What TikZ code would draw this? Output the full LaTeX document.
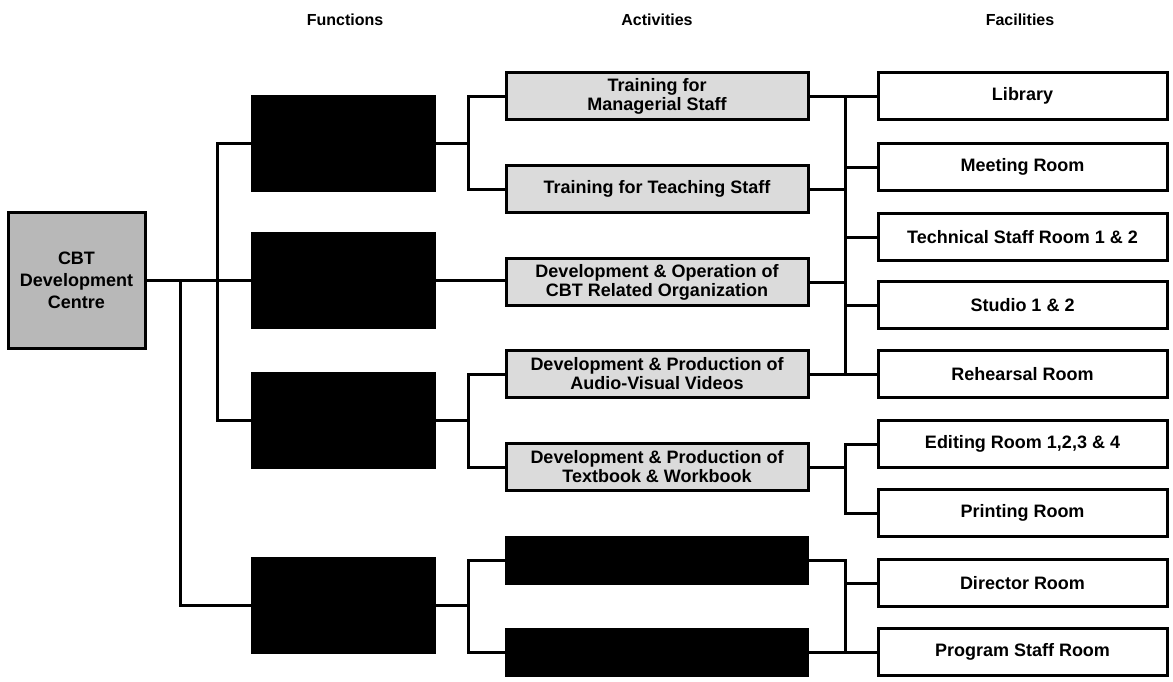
\documentclass[tikz,border=0pt]{standalone}
\usepackage{fontspec}
\setmainfont{Liberation Sans}
\begin{document}
\begin{tikzpicture}[x=1pt,y=-1pt,
  every node/.style={font=\bfseries\fontsize{18}{19}\selectfont, inner sep=0pt, align=center},
  head/.style={font=\bfseries\fontsize{16}{18}\selectfont},
  rootbox/.style={draw, line width=3pt, fill=black!28, minimum width=137, minimum height=136,
                  font=\bfseries\fontsize{18}{22}\selectfont},
  funcbox/.style={draw, line width=2pt, fill=black, minimum width=183, minimum height=95},
  actbox/.style={draw, line width=3pt, fill=black!14, minimum width=302, minimum height=47},
  actdark/.style={draw, line width=2pt, fill=black, minimum width=302, minimum height=47},
  facbox/.style={draw, line width=3pt, fill=white, minimum width=289, minimum height=47},
  link/.style={line width=3pt}]
\useasboundingbox (0,0) rectangle (1173,681);

% column headings
\node[head] (hF) at (345,20) {Functions};
\node[head] (hA) at (657,20) {Activities};
\node[head] (hC) at (1020,20) {Facilities};

% organisation
\node[rootbox] (root) at (76.5,280) {CBT\\Development\\Centre};

% functions
\node[funcbox] (F1) at (343.5,143) {};
\node[funcbox] (F2) at (343.5,280) {};
\node[funcbox] (F3) at (343.5,420) {};
\node[funcbox] (F4) at (343.5,605) {};

% activities
\node[actbox] (A1) at (657,96) {Training for\\Managerial Staff};
\node[actbox] (A2) at (657,189) {Training for Teaching Staff};
\node[actbox] (A3) at (657,282) {Development \& Operation of\\CBT Related Organization};
\node[actbox] (A4) at (657,374) {Development \& Production of\\Audio-Visual Videos};
\node[actbox] (A5) at (657,467) {Development \& Production of\\Textbook \& Workbook};
\node[actdark] (A6) at (657,560) {};
\node[actdark] (A7) at (657,652) {};

% facilities
\node[facbox] (C1) at (1022.5,96) {Library};
\node[facbox] (C2) at (1022.5,167) {Meeting Room};
\node[facbox] (C3) at (1022.5,237) {Technical Staff Room 1 \& 2};
\node[facbox] (C4) at (1022.5,305) {Studio 1 \& 2};
\node[facbox] (C5) at (1022.5,374) {Rehearsal Room};
\node[facbox] (C6) at (1022.5,444) {Editing Room 1,2,3 \& 4};
\node[facbox] (C7) at (1022.5,513) {Printing Room};
\node[facbox] (C8) at (1022.5,583) {Director Room};
\node[facbox] (C9) at (1022.5,652) {Program Staff Room};

% junction points of the connector buses
\coordinate (b1) at (180,280);
\coordinate (b2) at (217,280);
\coordinate (j1) at (468,143);
\coordinate (j3) at (468,420);
\coordinate (j4) at (468,605);
\coordinate (r1) at (845,374);
\coordinate (r2) at (845,467);
\coordinate (r3) at (845,652);

% organisation to functions
\draw[link] (root.east) -- (F2.west);
\draw[link] (b1) |- (F4.west);
\draw[link] (F1.west) -| (b2) |- (F3.west);

% functions to activities
\draw[link] (F1.east) -- (j1);
\draw[link] (A1.west) -| (j1) |- (A2.west);
\draw[link] (F2.east) -- (A3.west |- F2.east);
\draw[link] (F3.east) -- (j3);
\draw[link] (A4.west) -| (j3) |- (A5.west);
\draw[link] (F4.east) -- (j4);
\draw[link] (A6.west) -| (j4) |- (A7.west);

% activities to facilities
\draw[link] (A1.east) -| (r1) -- (C5.west);
\draw[link] (A1.east) -- (C1.west);
\draw[link] (A2.east) -- (A2.east -| r1);
\draw[link] (A3.east) -- (A3.east -| r1);
\draw[link] (A4.east) -- (A4.east -| r1);
\draw[link] (C2.west) -- (C2.west -| r1);
\draw[link] (C3.west) -- (C3.west -| r1);
\draw[link] (C4.west) -- (C4.west -| r1);
\draw[link] (A5.east) -- (r2);
\draw[link] (C6.west) -| (r2) |- (C7.west);
\draw[link] (A6.east) -| (r3) -- (C9.west);
\draw[link] (A7.east) -- (r3);
\draw[link] (C8.west) -- (C8.west -| r3);
\end{tikzpicture}
\end{document}
